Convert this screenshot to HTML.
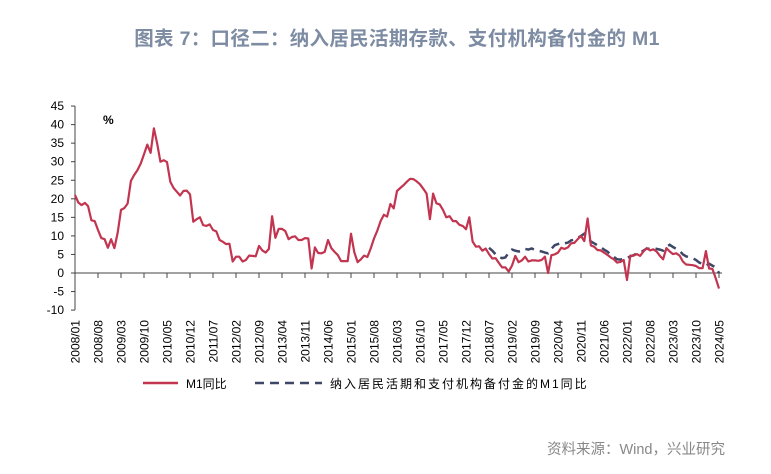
<!DOCTYPE html>
<html><head><meta charset="utf-8"><style>
body{margin:0;background:#fff;}
svg{display:block;font-family:"Liberation Sans","Noto Sans CJK SC",sans-serif;}
</style></head><body>
<svg id="s" width="771" height="474" xmlns="http://www.w3.org/2000/svg">
<text x="397" y="45" text-anchor="middle" font-size="19.5" font-weight="bold" fill="#7d8ca3" font-family="'Liberation Sans','Noto Sans CJK SC',sans-serif" letter-spacing="0.3">图表 7：口径二：纳入居民活期存款、支付机构备付金的 M1</text>
<text x="103" y="124" font-size="12" font-weight="bold" fill="#000">%</text>
<g id="g"></g>
<line x1="143" y1="383" x2="178" y2="383" stroke="#c2344f" stroke-width="2.5"/>
<text x="186" y="388" font-size="12" fill="#000">M1同比</text>
<line x1="255" y1="383" x2="322" y2="383" stroke="#3d4766" stroke-width="2.5" stroke-dasharray="9,6"/>
<text x="330" y="388" font-size="12" fill="#000" letter-spacing="2">纳入居民活期和支付机构备付金的M1同比</text>
<text x="725" y="454" text-anchor="end" font-size="14.5" fill="#888">资料来源：Wind，兴业研究</text>
</svg>
<script>
var m=[21,19,18.3,18.9,18,14.2,14,11.6,9.4,9.1,6.8,9.1,
6.7,10.9,17,17.5,18.7,24.8,26.4,27.7,29.5,32,34.6,32.4,
39,35,30,30.4,29.9,24.6,22.9,21.9,20.9,22.1,22.2,21.2,
13.8,14.5,15,12.9,12.7,13.1,11.6,11.2,8.9,8.4,7.8,7.9,
3.1,4.4,4.4,3.1,3.5,4.7,4.6,4.5,7.3,6.1,5.5,6.5,
15.3,9.5,11.9,11.9,11.3,9.1,9.7,9.9,8.9,8.9,9.4,9.3,
1.2,6.9,5.4,5.3,5.7,8.9,6.7,5.7,4.8,3.2,3.2,3.2,
10.6,5.6,2.9,3.7,4.7,4.3,6.6,9.3,11.4,14,15.7,15.2,
18.6,17.4,22.1,22.9,23.7,24.6,25.4,25.3,24.7,23.9,22.7,21.4,
14.5,21.4,18.8,18.5,17,15,15.3,14,14,13,12.7,11.8,
15,8.5,7.1,7.2,6,6.6,5.1,3.9,4,2.7,1.5,1.5,
0.4,2,4.6,2.9,3.4,4.4,3.1,3.4,3.4,3.3,3.5,4.4,
0,4.8,5,5.5,6.8,6.5,6.9,8,8.1,9.1,10,8.6,
14.7,7.4,7.1,6.2,6.1,5.5,4.9,4.2,3.7,2.8,3,3.5,
-1.9,4.7,4.7,5.1,4.6,5.8,6.7,6.1,6.4,5.8,4.6,3.7,
6.7,5.8,5.1,5.3,4.7,3.1,2.3,2.2,2.1,1.9,1.3,1.3,
5.9,1.2,1.1,-1.4,-4.2];
var d=[6.8,6.0,5.0,4.3,4.0,4.2,
5.5,6.3,6.0,5.8,5.9,6.5,6.3,6.6,6.2,6.0,5.8,5.5,
5.3,6.5,7.5,7.8,8.2,8.0,8.2,8.8,9.0,9.5,10.0,10.6,
9.5,8.5,8.0,7.5,7.0,6.3,5.8,5.0,4.3,3.7,3.6,3.8,
4.0,4.5,4.8,5.3,5.5,6.0,6.6,6.5,6.7,6.5,6.3,6.0,
7.0,7.6,7.0,6.5,6.0,5.0,4.5,4.2,4.0,3.5,2.8,2.5,
2.0,2.5,2.0,1.5,0.0];
var x0=75,dx=644/196,y0=273,ky=3.71;
function X(i){return x0+i*dx}function Y(v){return y0-v*ky}
var h='';
h+='<line x1="75" y1="106" x2="75" y2="310" stroke="#444" stroke-width="1"/>';
for(var v=-10;v<=45;v+=5){var y=Y(v);h+='<line x1="71" y1="'+y+'" x2="75" y2="'+y+'" stroke="#444"/><text x="64" y="'+(y+4)+'" text-anchor="end" font-size="12">'+v+'</text>';}
h+='<line x1="75" y1="273" x2="722" y2="273" stroke="#444"/>';
for(var i=0;i<=196;i+=7){var x=X(i);var yr=2008+Math.floor(i/12),mo=i%12+1;
h+='<line x1="'+x+'" y1="273" x2="'+x+'" y2="278" stroke="#444"/>';
h+='<text transform="translate('+(x+4.5)+',320) rotate(-90)" text-anchor="end" font-size="12">'+yr+'/'+(mo<10?'0':'')+mo+'</text>';}
var p='';m.forEach(function(v,i){p+=(i?'L':'M')+X(i).toFixed(1)+','+Y(v).toFixed(1)});
var q='';d.forEach(function(v,i){q+=(i?'L':'M')+X(i+126).toFixed(1)+','+Y(v).toFixed(1)});
h+='<path d="'+q+'" fill="none" stroke="#3d4766" stroke-width="2.5" stroke-dasharray="9,6"/>';
h+='<path d="'+p+'" fill="none" stroke="#c2344f" stroke-width="2.2" stroke-linejoin="round"/>';
document.getElementById('g').innerHTML=h;
</script>
</body></html>
